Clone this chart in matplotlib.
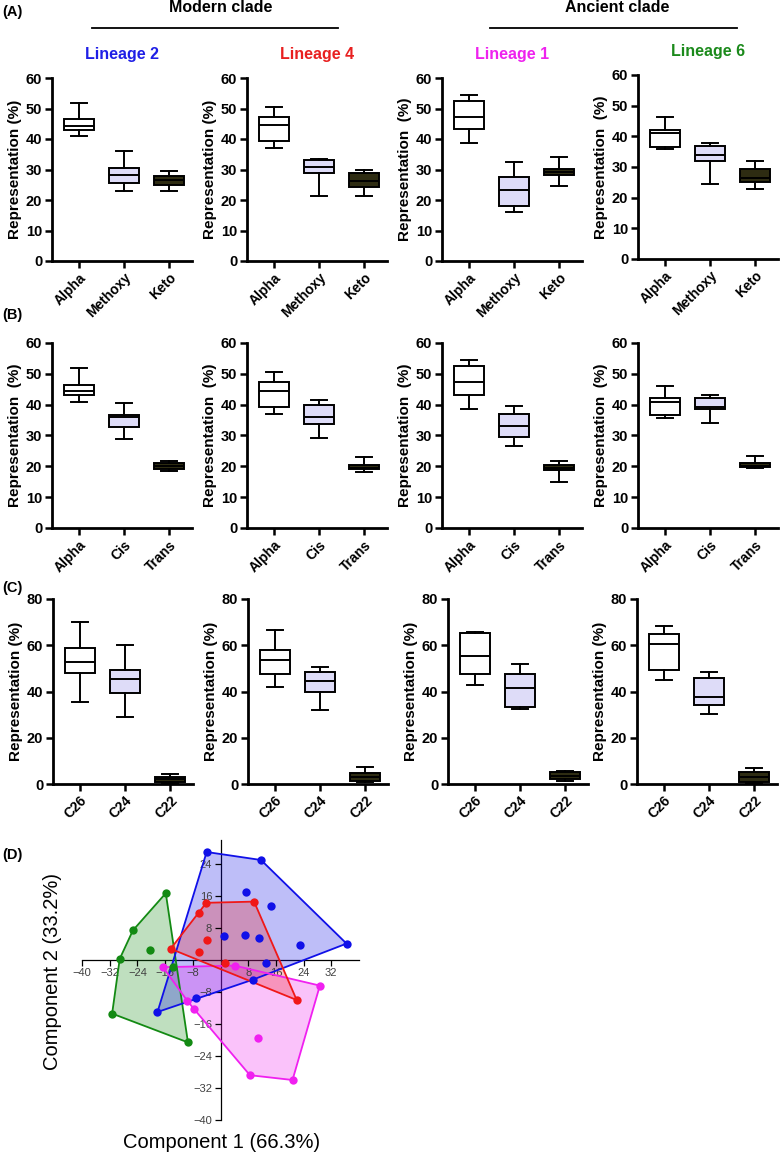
import numpy as np
import matplotlib
matplotlib.use("Agg")
import matplotlib.pyplot as plt

plt.rcParams['font.family'] = ['Liberation Sans', 'DejaVu Sans']

W, H = 783, 1155

# ---------------- data ----------------
lineages = ["Lineage 2", "Lineage 4", "Lineage 1", "Lineage 6"]
lineage_colors = ["#1f1fe6", "#e82020", "#ee22ee", "#1b8a1b"]
clades = ["Modern clade", "Ancient clade"]

cats_A = ["Alpha", "Methoxy", "Keto"]
cats_B = ["Alpha", "Cis", "Trans"]
cats_C = ["C26", "C24", "C22"]

# five-number summaries: [min, q1, median, q3, max]
A_L2 = [[41.0, 43.0, 44.4, 46.5, 51.9], [23.0, 25.5, 28.2, 30.5, 36.2], [23.0, 25.0, 26.6, 28.0, 29.6]]
A_L4 = [[37.0, 39.2, 44.5, 47.3, 50.6], [21.3, 28.9, 30.8, 33.0, 33.6], [21.3, 24.2, 26.3, 28.9, 29.8]]
A_L1 = [[38.6, 43.2, 47.2, 52.6, 54.4], [16.2, 18.1, 23.4, 27.4, 32.3], [24.6, 28.3, 29.1, 30.1, 34.1]]
A_L6 = [[35.8, 36.5, 41.0, 42.0, 46.2], [24.3, 32.0, 33.9, 37.0, 37.7], [22.8, 25.0, 26.4, 29.5, 32.0]]

B_L2 = [[41.0, 43.0, 44.4, 46.5, 51.9], [29.0, 32.8, 36.0, 36.8, 40.4], [18.6, 19.1, 20.0, 21.2, 21.8]]
B_L4 = [[37.0, 39.2, 44.5, 47.3, 50.6], [29.2, 33.6, 36.0, 40.0, 41.5], [18.3, 19.1, 19.6, 20.4, 23.0]]
B_L1 = [[38.6, 43.2, 47.2, 52.6, 54.4], [26.5, 29.4, 33.0, 36.9, 39.6], [15.0, 18.7, 19.6, 20.5, 21.6]]
B_L6 = [[35.8, 36.5, 41.0, 42.0, 46.2], [34.1, 38.5, 39.2, 42.3, 43.1], [19.6, 19.8, 20.1, 21.0, 23.3]]

C_L2 = [[35.6, 48.1, 52.7, 58.9, 70.1], [28.8, 39.5, 45.2, 49.5, 60.0], [0.5, 1.0, 2.0, 3.0, 4.5]]
C_L4 = [[42.1, 47.4, 53.8, 57.8, 66.8], [32.0, 39.7, 44.4, 48.4, 50.4], [1.0, 1.5, 3.0, 4.8, 7.5]]
C_L1 = [[42.8, 47.4, 55.3, 65.2, 65.6], [32.6, 33.4, 41.6, 47.5, 52.0], [1.5, 2.0, 3.5, 5.0, 5.6]]
C_L6 = [[44.9, 49.2, 60.7, 65.0, 68.2], [30.4, 34.0, 37.6, 46.0, 48.5], [0.5, 1.0, 3.0, 5.0, 7.0]]

# PCA scores (Component 1, Component 2)
pca_L2_x = [-4.0, 11.7, 7.5, 14.7, 1.0, 7.2, 11.2, 22.9, 36.4, 13.1, 9.4, -7.1, -18.2]
pca_L2_y = [27.0, 25.0, 16.9, 13.5, 5.9, 6.3, 5.4, 3.7, 4.1, -0.8, -4.9, -9.6, -13.0]
pca_L4_x = [-4.1, -6.3, 9.7, -3.8, -6.3, -14.4, 1.2, 22.0]
pca_L4_y = [14.3, 11.8, 14.6, 5.0, 1.9, 2.8, -0.7, -10.0]
pca_L1_x = [-16.6, 4.1, 28.7, -9.6, -7.7, 10.7, 8.5, 20.8]
pca_L1_y = [-1.8, -1.4, -6.4, -10.2, -12.2, -19.6, -28.8, -30.0]
pca_L6_x = [-15.8, -25.3, -20.4, -29.1, -13.7, -31.3, -9.4]
pca_L6_y = [16.7, 7.4, 2.6, 0.3, -1.7, -13.4, -20.6]

box_fills = ["white", "#dedcf8", "#2e2c12"]

# ---------------- figure ----------------
fig = plt.figure(figsize=(W / 100, H / 100), dpi=100)


def add_ax(left, top, bottom, width):
    return fig.add_axes([left / W, 1 - bottom / H, width / W, (bottom - top) / H])


def box_panel(ax, stats5, cats, ymax, ystep, ylabel):
    stats = []
    for s in stats5:
        stats.append(dict(whislo=s[0], q1=s[1], med=s[2], q3=s[3], whishi=s[4], fliers=[]))
    art = ax.bxp(stats, positions=[0, 1, 2], widths=0.68, patch_artist=True,
                 showfliers=False, capwidths=0.36,
                 boxprops=dict(edgecolor="black", linewidth=1.4),
                 medianprops=dict(color="black", linewidth=1.4),
                 whiskerprops=dict(color="black", linewidth=1.4),
                 capprops=dict(color="black", linewidth=1.4))
    for patch, fc in zip(art["boxes"], box_fills):
        patch.set_facecolor(fc)
    ax.set_xlim(-0.6, 2.5)
    ax.set_ylim(0, ymax)
    ax.set_yticks(np.arange(0, ymax + 1, ystep))
    ax.set_xticks([0, 1, 2])
    ax.set_xticklabels(cats, rotation=45, ha="right", rotation_mode="anchor",
                       fontsize=10, fontweight="bold")
    for lab in ax.get_yticklabels():
        lab.set_fontweight("bold")
        lab.set_fontsize(10.5)
    for sp in ["top", "right"]:
        ax.spines[sp].set_visible(False)
    for sp in ["left", "bottom"]:
        ax.spines[sp].set_linewidth(2.0)
    ax.tick_params(width=1.8, length=5, pad=2)
    ax.set_ylabel(ylabel, fontsize=11, fontweight="bold", labelpad=3)
    ax.patch.set_alpha(0)


lefts_AB = [52, 247, 442, 638]
lefts_C = [53, 248, 448, 637]
panel_w = 139.5

rowA = [A_L2, A_L4, A_L1, A_L6]
rowB = [B_L2, B_L4, B_L1, B_L6]
rowC = [C_L2, C_L4, C_L1, C_L6]
ylabA = ["Representation (%)", "Representation (%)", "Representation  (%)", "Representation  (%)"]
ylabB = ["Representation  (%)"] * 4
ylabC = ["Representation (%)"] * 4

for i in range(4):
    topA, botA = (75, 259) if i == 3 else (78, 261)
    ax = add_ax(lefts_AB[i], topA, botA, panel_w)
    box_panel(ax, rowA[i], cats_A, 60, 10, ylabA[i])
    ax.set_title(lineages[i], color=lineage_colors[i], fontsize=11.5,
                 fontweight="bold", pad=14)

    ax = add_ax(lefts_AB[i], 343, 528, panel_w)
    box_panel(ax, rowB[i], cats_B, 60, 10, ylabB[i])

    ax = add_ax(lefts_C[i], 599, 784, panel_w)
    box_panel(ax, rowC[i], cats_C, 80, 20, ylabC[i])

# clade headers
fig.text(221 / W, 1 - 8 / H, clades[0], ha="center", va="center", fontsize=11.5, fontweight="bold")
fig.text(617 / W, 1 - 8 / H, clades[1], ha="center", va="center", fontsize=11.5, fontweight="bold")
fig.add_artist(plt.Line2D([92 / W, 338 / W], [1 - 28 / H, 1 - 28 / H], color="black", lw=1.3))
fig.add_artist(plt.Line2D([490 / W, 737 / W], [1 - 28 / H, 1 - 28 / H], color="black", lw=1.3))

# panel letters
for lab, y in [("(A)", 12), ("(B)", 315), ("(C)", 588), ("(D)", 855)]:
    fig.text(2 / W, 1 - y / H, lab, ha="left", va="center", fontsize=10.5, fontweight="bold")

# ---------------- panel D ----------------
axd = add_ax(82, 840, 1120, 277)
axd.set_xlim(-40, 40)
axd.set_ylim(-40, 30)
axd.patch.set_alpha(0)


def convex_hull(xs, ys):
    pts = sorted(set(zip(xs, ys)))

    def cross(o, a, b):
        return (a[0] - o[0]) * (b[1] - o[1]) - (a[1] - o[1]) * (b[0] - o[0])

    lower, upper = [], []
    for p in pts:
        while len(lower) >= 2 and cross(lower[-2], lower[-1], p) <= 0:
            lower.pop()
        lower.append(p)
    for p in reversed(pts):
        while len(upper) >= 2 and cross(upper[-2], upper[-1], p) <= 0:
            upper.pop()
        upper.append(p)
    return np.array(lower[:-1] + upper[:-1])


groups = [(pca_L6_x, pca_L6_y, "#138a13"),
          (pca_L2_x, pca_L2_y, "#1010e8"),
          (pca_L1_x, pca_L1_y, "#f020f0"),
          (pca_L4_x, pca_L4_y, "#f01818")]
for xs, ys, cc in groups:
    hull = convex_hull(xs, ys)
    axd.fill(hull[:, 0], hull[:, 1], facecolor=cc, alpha=0.27, edgecolor="none", zorder=1)
    closed = np.vstack([hull, hull[:1]])
    axd.plot(closed[:, 0], closed[:, 1], color=cc, lw=1.3, zorder=2)
for xs, ys, cc in groups:
    axd.scatter(xs, ys, s=36, color=cc, zorder=3, linewidths=0)

axd.spines["left"].set_position(("data", 0))
axd.spines["bottom"].set_position(("data", 0))
axd.spines["top"].set_visible(False)
axd.spines["right"].set_visible(False)
for sp in ["left", "bottom"]:
    axd.spines[sp].set_linewidth(0.9)
    axd.spines[sp].set_zorder(0.5)
axd.set_xticks([-40, -32, -24, -16, -8, 8, 16, 24, 32])
axd.set_yticks([-40, -32, -24, -16, -8, 8, 16, 24])
axd.set_xticklabels(["\u221240", "\u221232", "\u221224", "\u221216", "\u22128", "8", "16", "24", "32"])
axd.set_yticklabels(["\u221240", "\u221232", "\u221224", "\u221216", "\u22128", "8", "16", "24"])
axd.tick_params(labelsize=8, labelcolor="#404040", length=4, width=0.9, pad=2)

fig.text(222 / W, 1 - 1143 / H, "Component 1 (66.3%)", ha="center", va="center", fontsize=14.5)
fig.text(53 / W, 1 - 972 / H, "Component 2 (33.2%)", ha="center", va="center", fontsize=14.5,
         rotation=90)

fig.savefig("out.png", dpi=100)
